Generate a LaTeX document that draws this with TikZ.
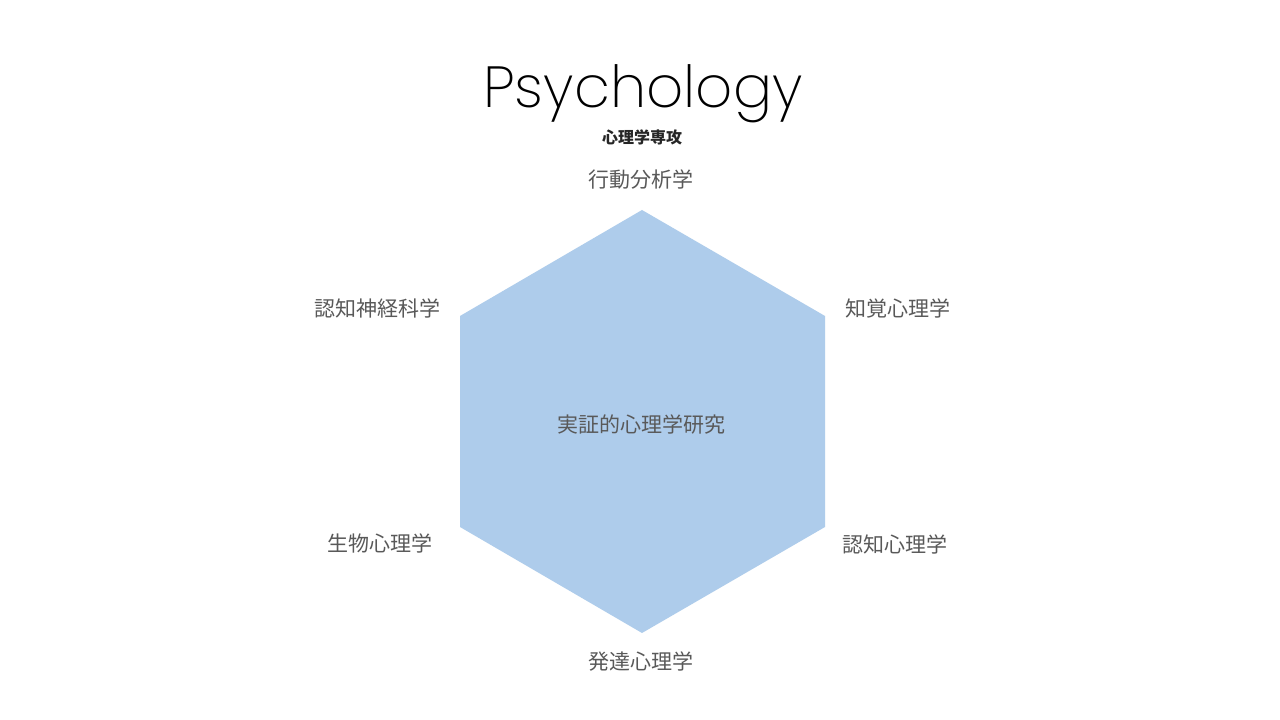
\documentclass[tikz,border=0pt]{standalone}
\usepackage{fontspec}
\setmainfont{Noto Sans CJK JP}
\newfontfamily\titlefont{Poppins}[UprightFont={* ExtraLight}]
\definecolor{hexblue}{HTML}{AECCEB}
\definecolor{labelgray}{HTML}{595959}
\begin{document}
\begin{tikzpicture}[x=1pt,y=1pt,
  lbl/.style={text=labelgray,font=\fontsize{21}{25}\selectfont,inner sep=0pt,anchor=center}]
\useasboundingbox (0,0) rectangle (1280,720);
\fill[white] (0,0) rectangle (1280,720);
\coordinate (t) at (642,510);
\coordinate (ur) at (825,404);
\coordinate (lr) at (825,193);
\coordinate (b) at (642,87);
\coordinate (ll) at (460,193);
\coordinate (ul) at (460,404);
\fill[hexblue] (t) -- (ur) -- (lr) -- (b) -- (ll) -- (ul) -- cycle;
\node[inner sep=0pt,text=black,font=\titlefont\fontsize{58}{64}\selectfont] (title) at (643,626) {Psychology};
\node[inner sep=0pt,text=black!85,font=\bfseries\fontsize{16}{18}\selectfont] (sub) at (642,583) {心理学専攻};
\node[lbl] (n1) at (641,540) {行動分析学};
\node[lbl] (n2) at (377,412) {認知神経科学};
\node[lbl] (n3) at (898,412) {知覚心理学};
\node[lbl] (c) at (641,295) {実証的心理学研究};
\node[lbl] (n4) at (380,177) {生物心理学};
\node[lbl] (n5) at (895,176) {認知心理学};
\node[lbl] (n6) at (641,58) {発達心理学};
\end{tikzpicture}
\end{document}
